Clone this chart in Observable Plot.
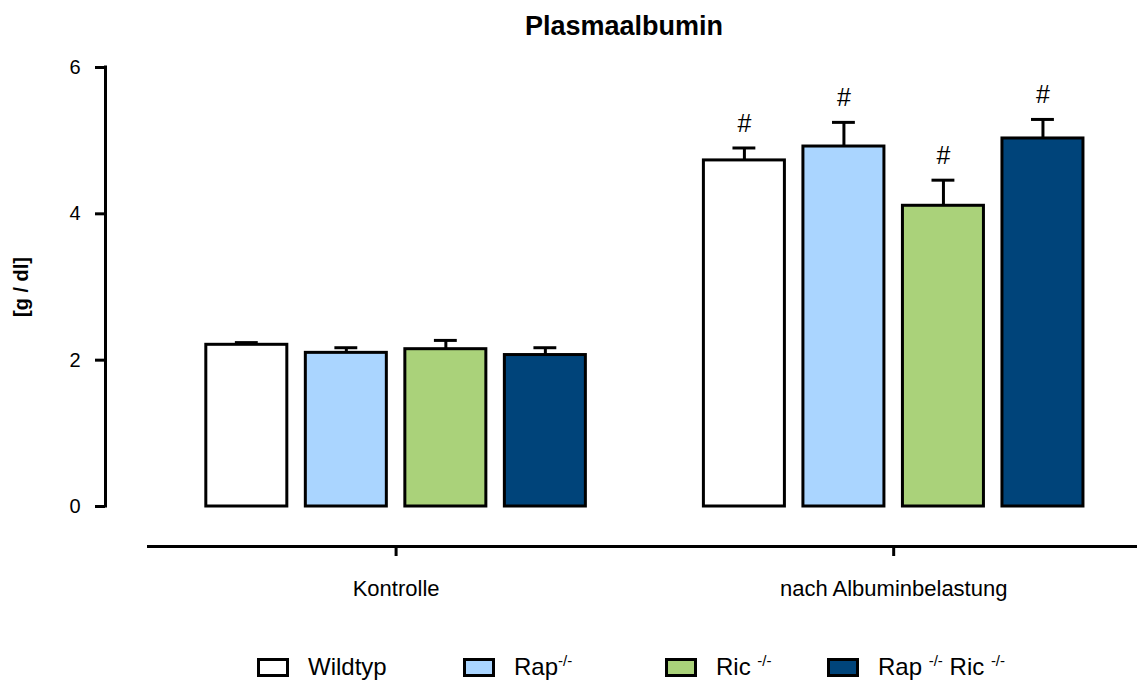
<!DOCTYPE html>
<html>
<head>
<meta charset="utf-8">
<script src="https://cdn.jsdelivr.net/npm/d3@7"></script>
<script src="https://cdn.jsdelivr.net/npm/@observablehq/plot@0.6"></script>
<style>
  html, body { margin: 0; padding: 0; background: #fff; }
  body { width: 1137px; height: 680px; overflow: hidden; font-family: "Liberation Sans", Arial, sans-serif; color: #000; }
  #title { height: 50px; box-sizing: border-box; padding-top: 2px; padding-left: 111px; line-height: 48px; text-align: center; font-size: 27px; font-weight: bold; }
  #chart svg { display: block; }
  #legend { position: relative; height: 30px; }
  .sw { position: absolute; top: 8px; width: 32px; height: 19px; box-sizing: border-box; border: 3px solid #000; }
  .lt { position: absolute; top: 5px; font-size: 24px; line-height: 24px; white-space: nowrap; }
  .lt sup { font-size: 15px; vertical-align: 9px; line-height: 0; }
</style>
</head>
<body>
<div id="title">Plasmaalbumin</div>
<div id="chart"></div>
<div id="legend"></div>
<script>
// ---- data ----
const groups = ["Kontrolle", "nach Albuminbelastung"];
const seriesNames = ["Wildtyp", "Rap-/-", "Ric -/-", "Rap -/- Ric -/-"];
const seriesColors = ["#ffffff", "#aad5ff", "#aad27a", "#00447a"];
const kontrolleMean = [2.21, 2.10, 2.15, 2.07];
const kontrolleSem  = [0.03, 0.07, 0.12, 0.10];
const kontrolleSig  = ["", "", "", ""];
const albuminMean   = [4.73, 4.92, 4.11, 5.03];
const albuminSem    = [0.17, 0.33, 0.35, 0.26];
const albuminSig    = ["#", "#", "#", "#"];
const yTicks = [0, 2, 4, 6];

// legend label html (superscripts)
const legendHtml = ["Wildtyp", "Rap<sup>-/-</sup>", "Ric <sup>-/-</sup>", "Rap <sup>-/-</sup> Ric <sup>-/-</sup>"];

// ---- table built from arrays ----
const groupStride = 5;
const means = [kontrolleMean, albuminMean];
const sems = [kontrolleSem, albuminSem];
const sigs = [kontrolleSig, albuminSig];
const rows = [];
groups.forEach((g, gi) => {
  seriesNames.forEach((s, si) => {
    rows.push({
      group: g, series: s,
      pos: gi * groupStride + si,
      mean: means[gi][si],
      top: means[gi][si] + sems[gi][si],
      sig: sigs[gi][si]
    });
  });
});
const groupCenters = groups.map((g, gi) => gi * groupStride + (seriesNames.length - 1) / 2);
const xDomain = [-1.42, 8.95];
const halfBar = 0.407;
const halfCap = 0.115;

const chart = Plot.plot({
  width: 1137,
  height: 600,
  marginLeft: 105,
  marginRight: 0,
  marginTop: 17,
  marginBottom: 104,
  style: { fontFamily: "'Liberation Sans', Arial, sans-serif", color: "#000", background: "#fff" },
  x: { domain: xDomain },
  y: { domain: [0, 6], range: [456, 17] },
  color: { domain: seriesNames, range: seriesColors },
  marks: [
    Plot.ruleX(rows, { x: "pos", y1: "mean", y2: "top", stroke: "#000", strokeWidth: 3 }),
    Plot.ruleY(rows, { y: "top", x1: d => d.pos - halfCap, x2: d => d.pos + halfCap, stroke: "#000", strokeWidth: 3 }),
    Plot.rectY(rows, { x1: d => d.pos - halfBar, x2: d => d.pos + halfBar, y1: 0, y2: "mean", fill: "series", stroke: "#000", strokeWidth: 3 }),
    Plot.text(rows.filter(d => d.sig), { x: "pos", y: "top", text: "sig", dy: -24, fontSize: 25, lineAnchor: "middle", fill: "#000" }),
    Plot.axisY({ ticks: yTicks, tickFormat: d => String(d), tickSize: 10, tickPadding: 15, fontSize: 20, strokeWidth: 3, label: null }),
    Plot.ruleX([xDomain[0]], { y1: 0, y2: 6, stroke: "#000", strokeWidth: 3, strokeLinecap: "square" }),
    Plot.text(["[g / dl]"], { x: xDomain[0], y: 3, dx: -84, rotate: -90, fontSize: 20, fontWeight: "bold", fill: "#000" }),
    Plot.axisX({ ticks: groupCenters, tickFormat: d => groups[groupCenters.indexOf(d)], tickSize: 10, tickPadding: 24, fontSize: 22, strokeWidth: 3, label: null }),
    Plot.frame({ anchor: "bottom", stroke: "#000", strokeWidth: 3, insetLeft: 43 })
  ]
});
document.getElementById("chart").appendChild(chart);

// ---- legend ----
const swLeft = [257, 463, 665, 827];
const legend = document.getElementById("legend");
seriesNames.forEach((s, i) => {
  const sw = document.createElement("div");
  sw.className = "sw";
  sw.style.left = swLeft[i] + "px";
  sw.style.background = seriesColors[i];
  legend.appendChild(sw);
  const t = document.createElement("div");
  t.className = "lt";
  t.style.left = (swLeft[i] + 51) + "px";
  t.innerHTML = legendHtml[i];
  legend.appendChild(t);
});
</script>
</body>
</html>
